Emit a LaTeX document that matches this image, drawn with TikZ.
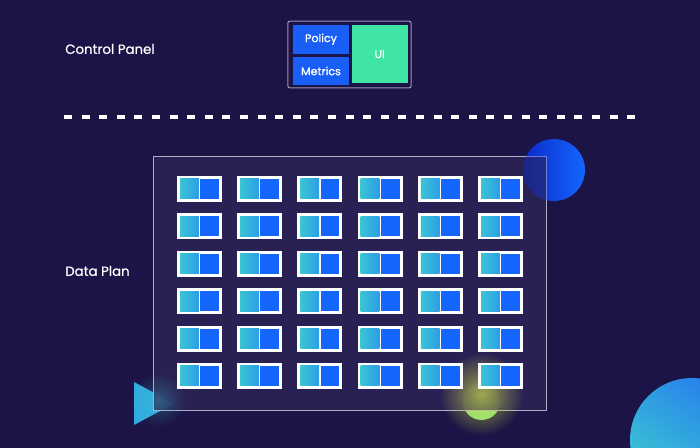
\documentclass[tikz,border=0pt]{standalone}
\usepackage{fontspec}
\setmainfont{Poppins}
\usetikzlibrary{positioning, calc, fadings}
\definecolor{bgnavy}{HTML}{1C1346}
\definecolor{panelfill}{HTML}{2A2254}
\definecolor{frameline}{HTML}{9C98B4}
\definecolor{boxblue}{HTML}{1A5EF8}
\definecolor{uigreen}{HTML}{40E4A4}
\definecolor{cellblue}{HTML}{1466FF}
\definecolor{cellcyan}{HTML}{3ECAD2}
\definecolor{limegreen}{HTML}{8CE27A}
\tikzfading[name=glow out, inner color=transparent!0, outer color=transparent!100]
\tikzset{
side label/.style={%
    text=white,
    anchor=west,
    inner sep=0pt,
    font=\fontsize{10}{12}\selectfont\addfontfeature{FakeBold=0.8}
},
blue box/.style={%
    rectangle,
    fill=boxblue,
    text=white,
    inner sep=0pt,
    minimum width=42pt,
    minimum height=21.4pt,
    font=\fontsize{8.3}{10}\selectfont\addfontfeature{FakeBold=0.8}
},
cell/.style={%
    rectangle,
    fill=white,
    inner sep=0pt,
    minimum width=33.75pt,
    minimum height=19.5pt,
    path picture={
        \shade[left color=cellcyan, right color=cellblue!90!cellcyan]
            ([shift={(2.25pt,2.25pt)}]path picture bounding box.south west)
            rectangle ([shift={(-0.5pt,-2.25pt)}]path picture bounding box.north);
        \fill[cellblue]
            ([shift={(0.5pt,2.25pt)}]path picture bounding box.south)
            rectangle ([shift={(-2.25pt,-2.25pt)}]path picture bounding box.north east);
    }
},
}

\begin{document}
\begin{tikzpicture}[x=0.75pt, y=-0.75pt]
	\useasboundingbox (0,0) rectangle (700,448);
	\fill[bgnavy] (0,0) rectangle (700,448);
	\clip (0,0) rectangle (700,448);

	% shapes behind the data plane
	\shade[left color=blue!45!boxblue!80!black, right color=cellblue] (554,170) circle (31);
	\fill[cellcyan!70!cellblue] (134,382) -- (134,425) -- (174,403.5) -- cycle;
	\fill[limegreen] (481.5,401.5) circle (18.5);

	% control panel
	\node[side label] (cp label) at (65,49) {Control Panel};
	\node[rectangle, rounded corners=1.5pt, draw=frameline, line width=0.8pt, fill=bgnavy,
	      minimum width=92.5pt, minimum height=50pt] (frame) at (349.5,54.5) {};
	\node[blue box] (policy) at (321,39.3) {Policy};
	\node[blue box, below=2pt of policy] (metrics) {Metrics};
	\node[blue box, fill=uigreen, minimum height=43.7pt] (ui) at (379.7,54.2) {UI};

	% split line
	\coordinate (split a) at (64,117);
	\coordinate (split b) at (637,117);
	\draw[white, line width=2.6pt, dash pattern=on 6pt off 7.2pt] (split a) -- (split b);

	% data plane
	\node[side label] (dp label) at (65,271) {Data Plan};
	\node[rectangle, draw=frameline!80, line width=0.6pt, fill=panelfill, fill opacity=0.93,
	      minimum width=294.75pt, minimum height=190.5pt] (plane) at (349.5,283) {};
	\begin{scope}
	  \clip (plane.south west) rectangle (plane.north east);
	  \shade[left color=blue!45!boxblue!80!black, right color=cellblue, opacity=0.4] (554,170) circle (31);
	\end{scope}
	\fill[yellow!55!limegreen, path fading=glow out, opacity=0.7] (481.5,394) circle (42);
	\fill[cellcyan, path fading=glow out, opacity=0.3] (158,400) circle (28);

	\foreach \r in {0,...,5}
	  \foreach \c in {0,...,5}
	    \node[cell] (cell-\r-\c) at (199.5+60.2*\c, 189+37.4*\r) {};

	% circle in the corner
	\shade[top color=boxblue!70!cellcyan, bottom color=cellcyan, shading angle=-35] (692,440) circle (62);
\end{tikzpicture}
\end{document}
